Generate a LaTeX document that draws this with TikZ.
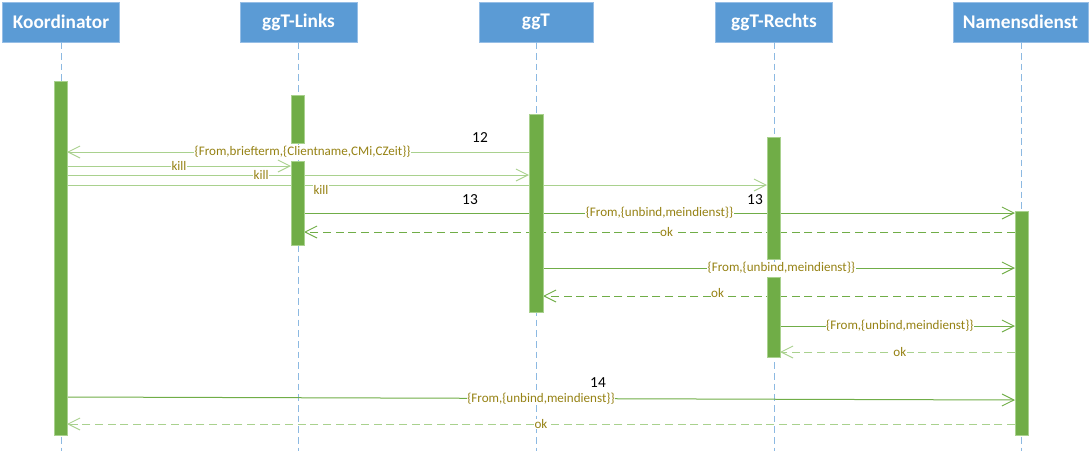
\documentclass[tikz,border=0pt]{standalone}
\usepackage{fontspec}
\setmainfont{Carlito}
\usetikzlibrary{arrows.meta}
\definecolor{hdr}{RGB}{91,155,213}
\definecolor{hdrb}{RGB}{150,190,230}
\definecolor{bar}{RGB}{112,173,71}
\definecolor{barb}{RGB}{169,209,142}
\definecolor{msgd}{RGB}{112,173,71}
\definecolor{msgl}{RGB}{169,209,142}
\definecolor{lbl}{RGB}{150,130,20}
\tikzset{
  header/.style={draw=hdrb, fill=hdr, text=white, font=\bfseries\fontsize{14.5}{16}\selectfont,
    minimum width=117*0.75pt, minimum height=40*0.75pt, inner sep=0pt, line width=0.6pt},
  life/.style={draw=hdr!70, dash pattern=on 5pt off 3pt, line width=0.6pt},
  actbar/.style={draw=barb, fill=bar, line width=0.5pt},
  msgsolid/.style={line width=0.75pt, -{Straight Barb[length=9pt,width=9pt,line width=0.7pt]}},
  msgdash/.style={msgsolid, dash pattern=on 6pt off 3.5pt},
  mlabel/.style={fill=white, text=lbl, font=\fontsize{9.8}{11}\selectfont, inner sep=0.5pt},
  num/.style={font=\fontsize{11.5}{13}\selectfont, text=black, inner sep=0pt},
}
\begin{document}
\begin{tikzpicture}[x=0.75pt,y=-0.75pt]
\useasboundingbox (0,0) rectangle (1090,451);
% headers
\node[header] (K) at (61,22) {Koordinator};
\node[header] (L) at (298.5,22) {ggT-Links};
\node[header, minimum width=114*0.75pt] (G) at (536,22) {ggT};
\node[header] (R) at (774,22) {ggT-Rechts};
\node[header, minimum width=135*0.75pt] (N) at (1020.5,22) {Namensdienst};
% lifelines
\coordinate (Ke) at (61,451);
\coordinate (Le) at (298,451);
\coordinate (Ge) at (536,451);
\coordinate (Re) at (774,451);
\coordinate (Ne) at (1021,451);
\draw[life] (K.south -| Ke) -- (Ke);
\draw[life] (L.south -| Le) -- (Le);
\draw[life] (G.south -| Ge) -- (Ge);
\draw[life] (R.south -| Re) -- (Re);
\draw[life] (N.south -| Ne) -- (Ne);
% endpoints
\coordinate (a1s) at (529,152); \coordinate (a1e) at (67,152);
\coordinate (a2s) at (67,166);  \coordinate (a2e) at (291,166);
\coordinate (a3s) at (67,175);  \coordinate (a3e) at (529,175);
\coordinate (a4s) at (67,185);  \coordinate (a4e) at (767,185);
\coordinate (a5s) at (304,213); \coordinate (a5e) at (1015,213);
\coordinate (a6s) at (1015,232);\coordinate (a6e) at (304,232);
\coordinate (a7s) at (543,268); \coordinate (a7e) at (1015,268);
\coordinate (a8s) at (1015,296);\coordinate (a8e) at (543,296);
\coordinate (a9s) at (780,326); \coordinate (a9e) at (1015,326);
\coordinate (a10s) at (1015,352);\coordinate (a10e) at (780,352);
\coordinate (a11s) at (67,397); \coordinate (a11e) at (1015,400);
\coordinate (a12s) at (1015,424);\coordinate (a12e) at (67,424);
% messages
\draw[msgsolid, msgl] (a1s) -- node[mlabel, pos=0.49] {\{From,briefterm,\{Clientname,CMi,CZeit\}\}} (a1e);
\draw[msgsolid, msgl] (a2s) -- node[mlabel, pos=0.5] {kill} (a2e);
\draw[msgsolid, msgl] (a3s) -- node[mlabel, pos=0.42] {kill} (a3e);
\draw[msgsolid, msgl] (a4s) -- (a4e);
\node[mlabel] (k3) at (321,189.5) {kill};
\draw[msgsolid, msgd] (a5s) -- node[mlabel, pos=0.50] {\{From,\{unbind,meindienst\}\}} (a5e);
\draw[msgdash, msgd] (a6s) -- node[mlabel, pos=0.49] {ok} (a6e);
\draw[msgsolid, msgd] (a7s) -- node[mlabel, pos=0.505] {\{From,\{unbind,meindienst\}\}} (a7e);
\draw[msgdash, msgd] (a8s) -- node[mlabel, pos=0.63, yshift=2pt] {ok} (a8e);
\draw[msgsolid, msgd] (a9s) -- node[mlabel, pos=0.51] {\{From,\{unbind,meindienst\}\}} (a9e);
\draw[msgdash, msgl] (a10s) -- node[mlabel, pos=0.49] {ok} (a10e);
\draw[msgsolid, msgd] (a11s) -- node[mlabel, pos=0.5] {\{From,\{unbind,meindienst\}\}} (a11e);
\draw[msgdash, msgl] (a12s) -- node[mlabel, pos=0.5] {ok} (a12e);
% activation bars
\draw[actbar] (54,81) rectangle (67,435);
\draw[actbar] (291,95) rectangle (304,143);
\draw[actbar] (291,161) rectangle (304,245);
\draw[actbar] (529,114) rectangle (543,312);
\draw[actbar] (767,137) rectangle (780,259);
\draw[actbar] (767,277) rectangle (780,357);
\draw[actbar] (1015,211) rectangle (1028,435);
% numbers
\node[num] (n12) at (480,138) {12};
\node[num] (n13a) at (470,200) {13};
\node[num] (n13b) at (755,200) {13};
\node[num] (n14) at (598,383) {14};
\end{tikzpicture}
\end{document}
